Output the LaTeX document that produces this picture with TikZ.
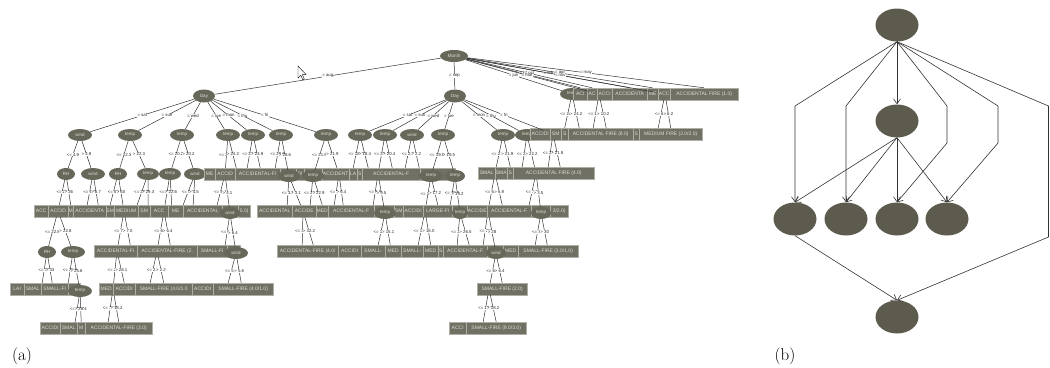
\documentclass[tikz,border=0pt]{standalone}
\usepackage{fontspec}
\newfontfamily\wekafont{Liberation Sans}
\usetikzlibrary{shapes.geometric,arrows.meta}
\definecolor{nodegray}{RGB}{104,104,90}
\definecolor{leafgray}{RGB}{112,112,100}
\definecolor{leafedge}{RGB}{175,175,165}
\definecolor{inktext}{RGB}{222,222,212}
\definecolor{bngray}{RGB}{92,91,78}
\tikzset{
  attr/.style={ellipse, fill=nodegray, minimum width=24pt, minimum height=12pt, inner sep=0pt, text=inktext, font=\wekafont\fontsize{4.5}{5}\selectfont},
  leaf/.style={rectangle, draw=leafedge, line width=0.4pt, fill=leafgray, minimum height=12pt, inner sep=0pt, anchor=west, text=inktext, font=\wekafont\fontsize{5}{6}\selectfont},
  lbl/.style={fill=white, inner sep=0.3pt, text=black!85, font=\wekafont\fontsize{4.3}{5}\selectfont},
  link/.style={draw=black!80, line width=0.5pt},
  bn/.style={ellipse, fill=bngray, minimum width=43pt, minimum height=33pt, inner sep=0pt},
  bnarrow/.style={draw=black!80, line width=0.6pt, -{Straight Barb[length=5pt,width=7pt]}},
  caption/.style={font=\fontsize{17}{20}\selectfont},
}
\begin{document}
\begin{tikzpicture}[x=1pt,y=-1pt]
\useasboundingbox (0,0) rectangle (1050,367);

% (a) tree
\node[attr, minimum width=28pt] (month) at (454,56) {Month};
\node[attr, minimum width=22pt, minimum height=13pt] (dayA) at (204,96) {Day};
\node[attr, minimum width=22pt, minimum height=13pt] (dayS) at (455,96) {Day};
\node[attr] (junT) at (572,94) {temp};
\node[attr] (junH1) at (599,94) {};
\node[attr] (junH2) at (665,94) {};
\node[leaf, minimum width=14pt] (j1) at (573,94) {ACI};
\node[leaf, minimum width=10pt] (j2) at (587,94) {AC};
\node[leaf, minimum width=15pt] (j3) at (597,94) {ACCI};
\node[leaf, minimum width=35pt] (j4) at (612,94) {ACCIDENTA};
\node[leaf, minimum width=11pt] (j5) at (647,94) {ME};
\node[leaf, minimum width=12pt] (j6) at (658,94) {ACC};
\node[leaf, minimum width=68pt] (j7) at (670,94) {ACCIDENTAL FIRE (1.0)};

\node[attr] (windA) at (80,135) {wind};
\node[attr] (tmpA2) at (130,135) {temp};
\node[attr] (tmpA3) at (182,135) {temp};
\node[attr] (tmpA4) at (228,135) {temp};
\node[attr] (tmpA5) at (253,135) {temp};
\node[attr] (tmpA6) at (281,135) {temp};
\node[attr] (tmpA7) at (326,135) {temp};
\node[attr] (tmpS1) at (360,135) {temp};
\node[attr] (tmpS2) at (385,135) {temp};
\node[attr] (windS3) at (412,135) {wind};
\node[attr] (tmpS4) at (443,135) {temp};
\node[attr] (tmpS5) at (503,135) {temp};
\node[attr] (tmpS6) at (527,135) {temp};
\node[attr] (hidS7) at (553,134) {};
\node[leaf, minimum width=20pt] (k1) at (530,134) {ACCIDI};
\node[leaf, minimum width=11pt] (k2) at (550,134) {SM};
\node[leaf, minimum width=7pt] (k3) at (561,134) {S};
\node[leaf, minimum width=65pt] (k4) at (568,134) {ACCIDENTAL FIRE (8.0)};
\node[leaf, minimum width=6pt] (k5) at (633,134) {S};
\node[leaf, minimum width=63pt] (k6) at (639,134) {MEDIUM FIRE (2.0/2.0)};

\node[attr, minimum width=18pt] (rhA) at (66,174) {RH};
\node[attr] (windB) at (93,174) {wind};
\node[attr, minimum width=18pt] (rhB) at (118,174) {RH};
\node[attr, minimum width=22pt] (tmpB) at (148,174) {temp};
\node[attr, minimum width=22pt] (tmpC) at (170,174) {temp};
\node[attr, minimum width=22pt] (windC) at (195,174) {wind};
\node[attr] (hid3a) at (225,174) {};
\node[attr] (hid3b) at (339,174) {};
\node[attr] (hid3c) at (378,174) {};
\node[attr] (hid3d) at (495,173) {};
\node[attr] (hid3e) at (536,173) {};
\node[leaf, minimum width=11pt] (m1) at (204,174) {ME};
\node[leaf, minimum width=20pt] (m2) at (215,174) {ACCID};
\node[leaf, minimum width=45pt] (m3) at (235,174) {ACCIDENTAL-FI};
\node[leaf, minimum width=16pt] (m4) at (280,174) {};
\node[leaf, minimum width=8pt] (m5) at (296,174) {0/};
\node[leaf, minimum width=18pt] (m6) at (304,174) {};
\node[leaf, minimum width=27pt] (m7) at (322,174) {ACCIDENT};
\node[leaf, minimum width=8pt] (m8) at (349,174) {LA};
\node[leaf, minimum width=5pt] (m9) at (357,174) {S};
\node[leaf, minimum width=58pt] (m10) at (362,174) {ACCIDENTAL-F};
\node[leaf, minimum width=35pt] (m11) at (420,174) {};
\node[attr, minimum width=22pt] (windD) at (289,176) {wind};
\node[attr, minimum width=22pt] (tmpD) at (313,176) {temp};
\node[attr] (tmpE) at (431,176) {temp};
\node[attr, minimum width=20pt] (tmpF) at (455,176) {temp};
\node[leaf, minimum width=17pt] (n1) at (478,173) {SMAL};
\node[leaf, minimum width=12pt] (n2) at (495,173) {SMA};
\node[leaf, minimum width=6pt] (n3) at (507,173) {S};
\node[leaf, minimum width=81pt] (n4) at (513,173) {ACCIDENTAL FIRE (4.0)};

\node[attr] (hid5a) at (58,211) {};
\node[attr] (hid5b) at (124,211) {};
\node[attr] (hid5c) at (164,211) {};
\node[attr] (hid5d) at (303,211) {};
\node[attr] (hid5e) at (425,211) {};
\node[attr] (hid5f) at (488,211) {};
\node[leaf, minimum width=14pt] (p1) at (34,211) {ACC};
\node[leaf, minimum width=20pt] (p2) at (48,211) {ACCID};
\node[leaf, minimum width=5pt] (p3) at (68,211) {M};
\node[leaf, minimum width=33pt] (p4) at (73,211) {ACCIDENTA};
\node[leaf, minimum width=8pt] (p5) at (106,211) {SM};
\node[leaf, minimum width=24pt] (p6) at (114,211) {MEDIUM};
\node[leaf, minimum width=12pt] (p7) at (138,211) {SM};
\node[leaf, minimum width=18pt] (p8) at (150,211) {ACC};
\node[leaf, minimum width=15pt] (p9) at (168,211) {ME};
\node[leaf, minimum width=39pt] (p10) at (183,211) {ACCIDENTAL};
\node[leaf, minimum width=16pt] (p11) at (222,211) {};
\node[leaf, minimum width=12pt] (p12) at (238,211) {5.0)};
\node[attr, minimum width=20pt] (windE) at (230,213) {wind};
\node[leaf, minimum width=35pt] (r5a) at (257,211) {ACCIDENTAL};
\node[leaf, minimum width=24pt] (r5b) at (292,211) {ACCIDE};
\node[leaf, minimum width=12pt] (r5c) at (316,211) {MED};
\node[leaf, minimum width=46pt] (r5d) at (328,211) {ACCIDENTAL-F};
\node[leaf, minimum width=20pt] (r5e) at (374,211) {};
\node[leaf, minimum width=9pt] (r5f) at (394,211) {SM};
\node[leaf, minimum width=20pt] (r5g) at (403,211) {ACCIDI};
\node[leaf, minimum width=29pt] (r5h) at (423,211) {LARGE-FI};
\node[leaf, minimum width=15pt] (r5i) at (452,211) {};
\node[leaf, minimum width=20pt] (r5j) at (467,211) {ACCIDE};
\node[leaf, minimum width=44pt] (r5k) at (487,211) {ACCIDENTAL-F};
\node[leaf, minimum width=19pt] (r5l) at (531,211) {};
\node[leaf, minimum width=18pt] (r5m) at (550,211) {3/2.0)};
\node[attr, minimum width=22pt] (tmpG) at (385,213) {temp};
\node[attr, minimum width=16pt] (tmpH) at (460,213) {temp};
\node[attr, minimum width=20pt] (tmpI) at (541,213) {temp};

\node[attr, minimum width=18pt] (rhC) at (47,252) {RH};
\node[attr] (tmpJ) at (73,252) {temp};
\node[attr] (hid7a) at (117,251) {};
\node[attr] (hid7b) at (157,251) {};
\node[leaf, minimum width=43pt] (q1) at (94,251) {ACCIDENTAL-FI};
\node[leaf, minimum width=60pt] (q2) at (137,251) {ACCIDENTAL-FIRE (2.};
\node[leaf, minimum width=30pt] (q3) at (197,251) {SMALL-FI};
\node[leaf, minimum width=13pt] (q4) at (227,251) {};
\node[attr] (windF) at (236,253) {wind};
\node[leaf, minimum width=61pt] (s1) at (277,251) {ACCIDENTAL-FIRE (4.0/};
\node[leaf, minimum width=23pt] (s2) at (338,251) {ACCIDI};
\node[leaf, minimum width=24pt] (s3) at (361,251) {SMALL-};
\node[leaf, minimum width=16pt] (s4) at (385,251) {MED};
\node[leaf, minimum width=22pt] (s5) at (401,251) {SMALL-};
\node[leaf, minimum width=15pt] (s6) at (423,251) {MED};
\node[leaf, minimum width=5pt] (s7) at (438,251) {S};
\node[leaf, minimum width=44pt] (s8) at (443,251) {ACCIDENTAL-F};
\node[leaf, minimum width=16pt] (s9) at (487,251) {};
\node[leaf, minimum width=15pt] (s10) at (503,251) {MED};
\node[leaf, minimum width=60pt] (s11) at (518,251) {SMALL-FIRE (3.0/1.0)};
\node[attr, minimum width=20pt] (windG) at (496,253) {wind};

\node[attr] (hid9a) at (113,289) {};
\node[attr] (hid9b) at (489,289) {};
\node[leaf, minimum width=14pt] (t1) at (10,289) {LAI};
\node[leaf, minimum width=17pt] (t2) at (24,289) {SMAL};
\node[leaf, minimum width=27pt] (t3) at (41,289) {SMALL-FI};
\node[leaf, minimum width=12pt] (t4) at (68,289) {};
\node[attr] (tmpK) at (80,291) {temp};
\node[leaf, minimum width=14pt] (u1) at (99,289) {MED};
\node[leaf, minimum width=22pt] (u2) at (113,289) {ACCIDI};
\node[leaf, minimum width=57pt] (u3) at (135,289) {SMALL-FIRE (4.0/1.0};
\node[leaf, minimum width=21pt] (u4) at (192,289) {ACCIDI};
\node[leaf, minimum width=60pt] (u5) at (213,289) {SMALL-FIRE (4.0/1.0)};
\node[leaf, minimum width=50pt] (x1) at (477,289) {SMALL-FIRE (2.0)};

\node[leaf, minimum width=20pt] (v1) at (40,328) {ACCIDI};
\node[leaf, minimum width=17pt] (v2) at (60,328) {SMAL};
\node[leaf, minimum width=8pt] (v3) at (77,328) {M};
\node[leaf, minimum width=67pt] (v4) at (85,328) {ACCIDENTAL-FIRE (3.0)};
\node[leaf, minimum width=17pt] (w1) at (449,328) {ACCI};
\node[leaf, minimum width=60pt] (w2) at (466,328) {SMALL-FIRE (9.0/3.0)};

\draw[link] (month) -- node[lbl] {= aug} (dayA);
\draw[link] (month) -- node[lbl] {= sep} (dayS);
\draw[link] (month) -- node[lbl] {= jun} (junT);
\draw[link] (month) -- node[lbl] {= jul} (j1.north);
\draw[link] (month) -- node[lbl] {= oct} (j2.north);
\draw[link] (month) -- node[lbl] {= mar} (junH1);
\draw[link] (month) -- node[lbl] {= feb} (j4.north);
\draw[link] (month) -- node[lbl] {= apr} (j5.north);
\draw[link] (month) -- node[lbl] {= nov} (junH2);
\draw[link] (month) -- node[lbl] {= may} (j7.north);

\draw[link] (dayA) -- node[lbl] {= sat} (windA);
\draw[link] (dayA) -- node[lbl] {= sun} (tmpA2);
\draw[link] (dayA) -- node[lbl] {= wed} (tmpA3);
\draw[link] (dayA) -- node[lbl] {= tue} (tmpA4);
\draw[link] (dayA) -- node[lbl] {= mon} (tmpA5);
\draw[link] (dayA) -- node[lbl] {= thu} (tmpA6);
\draw[link] (dayA) -- node[lbl] {= fri} (tmpA7);
\draw[link] (dayS) -- node[lbl] {= sat} (tmpS1);
\draw[link] (dayS) -- node[lbl] {= sun} (tmpS2);
\draw[link] (dayS) -- node[lbl] {= wed} (windS3);
\draw[link] (dayS) -- node[lbl] {= tue} (tmpS4);
\draw[link] (dayS) -- node[lbl] {= mon} (tmpS5);
\draw[link] (dayS) -- node[lbl] {= thu} (tmpS6);
\draw[link] (dayS) -- node[lbl] {= fri} (hidS7);
\draw[link] (junT) -- node[lbl] {<= 24.2} (k3.north);
\draw[link] (junT) -- node[lbl] {> 24.2} ([xshift=-21.5pt]k4.north);
\draw[link] (junH1) -- node[lbl] {<= 10.2} ([xshift=-7.5pt]k4.north);
\draw[link] (junH1) -- node[lbl] {> 10.2} ([xshift=5.5pt]k4.north);
\draw[link] (junH2) -- node[lbl] {<= 6.2} ([xshift=-12.5pt]k6.north);
\draw[link] (junH2) -- node[lbl] {> 6.2} (k6.north);

\draw[link] (windA) -- node[lbl] {<= 4.9} (rhA);
\draw[link] (windA) -- node[lbl] {> 4.9} (windB);
\draw[link] (tmpA2) -- node[lbl] {<= 22.3} (rhB);
\draw[link] (tmpA2) -- node[lbl] {> 22.3} (tmpB);
\draw[link] (tmpA3) -- node[lbl] {<= 20.2} (tmpC);
\draw[link] (tmpA3) -- node[lbl] {> 20.2} (windC);
\draw[link] (tmpA4) -- node[lbl] {<= 24.2} (hid3a);
\draw[link] (tmpA4) -- node[lbl] {> 24.2} ([xshift=-21.5pt]m3.north);
\draw[link] (tmpA5) -- node[lbl] {<= 24.9} ([xshift=-10.5pt]m3.north);
\draw[link] (tmpA5) -- node[lbl] {> 24.9} ([xshift=2.5pt]m3.north);
\draw[link] (tmpA6) -- node[lbl] {<= 28.6} ([xshift=17.5pt]m3.north);
\draw[link] (tmpA6) -- node[lbl] {> 28.6} (windD);
\draw[link] (tmpA7) -- node[lbl] {<= 21.9} (tmpD);
\draw[link] (tmpA7) -- node[lbl] {> 21.9} (hid3b);
\draw[link] (tmpS1) -- node[lbl] {<= 18.4} (m8.north);
\draw[link] (tmpS1) -- node[lbl] {> 18.4} ([xshift=-23pt]m10.north);
\draw[link] (tmpS2) -- node[lbl] {<= 20.4} (hid3c);
\draw[link] (tmpS2) -- node[lbl] {> 20.4} ([xshift=1pt]m10.north);
\draw[link] (windS3) -- node[lbl] {<= 2.2} ([xshift=14pt]m10.north);
\draw[link] (windS3) -- node[lbl] {> 2.2} ([xshift=28pt]m10.north);
\draw[link] (tmpS4) -- node[lbl] {<= 19.5} (tmpE);
\draw[link] (tmpS4) -- node[lbl] {> 19.5} (tmpF);
\draw[link] (tmpS5) -- node[lbl] {<= 21.9} (hid3d);
\draw[link] (tmpS5) -- node[lbl] {> 21.9} (n3.north);
\draw[link] (tmpS6) -- node[lbl] {<= 22.2} ([xshift=-31.5pt]n4.north);
\draw[link] (tmpS6) -- node[lbl] {> 22.2} (hid3e);
\draw[link] (hidS7) -- node[lbl] {<= 21.9} ([xshift=-5.5pt]n4.north);
\draw[link] (hidS7) -- node[lbl] {> 21.9} ([xshift=6.5pt]n4.north);

\draw[link] (rhA) -- node[lbl] {<= 26} (hid5a);
\draw[link] (rhA) -- node[lbl] {> 26} (p3.north);
\draw[link] (windB) -- node[lbl] {<= 6.7} ([xshift=-2.5pt]p4.north);
\draw[link] (windB) -- node[lbl] {> 6.7} ([xshift=8.5pt]p4.north);
\draw[link] (rhB) -- node[lbl] {<= 60} (p5.north);
\draw[link] (rhB) -- node[lbl] {> 60} (hid5b);
\draw[link] (tmpB) -- node[lbl] {<= 29.3} ([xshift=11pt]p6.north);
\draw[link] (tmpB) -- node[lbl] {> 29.3} ([xshift=4pt]p7.north);
\draw[link] (tmpC) -- node[lbl] {<= 22.6} (hid5c);
\draw[link] (tmpC) -- node[lbl] {> 22.6} ([xshift=-4pt]p9.north);
\draw[link] (windC) -- node[lbl] {<= 4.5} ([xshift=-19.5pt]p10.north);
\draw[link] (windC) -- node[lbl] {> 4.5} ([xshift=-9.5pt]p10.north);
\draw[link] (hid3a) -- node[lbl] {<= 4.1} ([xshift=14.5pt]p10.north);
\draw[link] (hid3a) -- node[lbl] {> 4.1} (windE);
\draw[link] (windD) -- node[lbl] {<= 3.1} ([xshift=12.5pt]r5a.north);
\draw[link] (windD) -- node[lbl] {> 3.1} (hid5d);
\draw[link] (tmpD) -- node[lbl] {<= 22.9} ([xshift=6pt]r5b.north);
\draw[link] (tmpD) -- node[lbl] {> 22.9} (r5c.north);
\draw[link] (hid3b) -- node[lbl] {<= 6.4} ([xshift=-17pt]r5d.north);
\draw[link] (hid3b) -- node[lbl] {> 6.4} ([xshift=-8pt]r5d.north);
\draw[link] (hid3c) -- node[lbl] {<= 9.5} ([xshift=22pt]r5d.north);
\draw[link] (hid3c) -- node[lbl] {> 9.5} (tmpG);
\draw[link] (tmpE) -- node[lbl] {<= 17.2} (hid5e);
\draw[link] (tmpE) -- node[lbl] {> 17.2} (r5h.north);
\draw[link] (tmpF) -- node[lbl] {<= 19.2} ([xshift=12.5pt]r5h.north);
\draw[link] (tmpF) -- node[lbl] {> 19.2} (tmpH);
\draw[link] (hid3d) -- node[lbl] {<= 6.9} (hid5f);
\draw[link] (hid3d) -- node[lbl] {> 6.9} ([xshift=-7pt]r5k.north);
\draw[link] (hid3e) -- node[lbl] {<= 3.5} ([xshift=20pt]r5k.north);
\draw[link] (hid3e) -- node[lbl] {> 3.5} (tmpI);

\draw[link] (hid5a) -- node[lbl] {<= 22.8} (rhC);
\draw[link] (hid5a) -- node[lbl] {> 22.8} (tmpJ);
\draw[link] (hid5b) -- node[lbl] {<= 7.0} (hid7a);
\draw[link] (hid5b) -- node[lbl] {> 7.0} ([xshift=14.5pt]q1.north);
\draw[link] (hid5c) -- node[lbl] {<= 6.4} (hid7b);
\draw[link] (hid5c) -- node[lbl] {> 6.4} ([xshift=3pt]q2.north);
\draw[link] (windE) -- node[lbl] {<= 6.4} ([xshift=13pt]q3.north);
\draw[link] (windE) -- node[lbl] {> 6.4} (windF);
\draw[link] (hid5d) -- node[lbl] {<= 32.2} ([xshift=-5.5pt]s1.north);
\draw[link] (hid5d) -- node[lbl] {> 32.2} ([xshift=5.5pt]s1.north);
\draw[link] (tmpG) -- node[lbl] {<= 15.1} ([xshift=5pt]s3.north);
\draw[link] (tmpG) -- node[lbl] {> 15.1} ([xshift=-3pt]s4.north);
\draw[link] (hid5e) -- node[lbl] {<= 16.0} ([xshift=6pt]s5.north);
\draw[link] (hid5e) -- node[lbl] {> 16.0} (s6.north);
\draw[link] (tmpH) -- node[lbl] {<= 26.5} ([xshift=-8pt]s8.north);
\draw[link] (tmpH) -- node[lbl] {> 26.5} ([xshift=4pt]s8.north);
\draw[link] (hid5f) -- node[lbl] {<= 28} ([xshift=18pt]s8.north);
\draw[link] (hid5f) -- node[lbl] {> 28} (windG);
\draw[link] (tmpI) -- node[lbl] {<= 30} ([xshift=-13pt]s11.north);
\draw[link] (tmpI) -- node[lbl] {> 30} ([xshift=-1pt]s11.north);

\draw[link] (rhC) -- node[lbl] {<= 33} ([xshift=9.5pt]t2.north);
\draw[link] (rhC) -- node[lbl] {> 33} ([xshift=-2.5pt]t3.north);
\draw[link] (tmpJ) -- node[lbl] {<= 25.6} ([xshift=13.5pt]t3.north);
\draw[link] (tmpJ) -- node[lbl] {> 25.6} (tmpK);
\draw[link] (hid7a) -- node[lbl] {<= 28.1} (hid9a);
\draw[link] (hid7a) -- node[lbl] {> 28.1} (u2.north);
\draw[link] (hid7b) -- node[lbl] {<= 2.2} ([xshift=-13.5pt]u3.north);
\draw[link] (hid7b) -- node[lbl] {> 2.2} (u3.north);
\draw[link] (windF) -- node[lbl] {<= 5.6} ([xshift=-15pt]u5.north);
\draw[link] (windF) -- node[lbl] {> 5.6} ([xshift=-2pt]u5.north);
\draw[link] (windG) -- node[lbl] {<= 6.4} (hid9b);
\draw[link] (windG) -- node[lbl] {> 6.4} (x1.north);

\draw[link] (tmpK) -- node[lbl] {<= 28.4} ([xshift=6.5pt]v2.north);
\draw[link] (tmpK) -- node[lbl] {> 28.4} (v3.north);
\draw[link] (hid9a) -- node[lbl] {<= 18.2} ([xshift=-10.5pt]v4.north);
\draw[link] (hid9a) -- node[lbl] {> 18.2} (v4.north);
\draw[link] (hid9b) -- node[lbl] {<= 18.2} ([xshift=-13pt]w2.north);
\draw[link] (hid9b) -- node[lbl] {> 18.2} (w2.north);

\draw[fill=white, line width=0.4pt] (298,66) -- (298,78) -- (300.8,75.3) -- (302.8,79.8) -- (304.3,79.1) -- (302.4,74.7) -- (306,74.5) -- cycle;

\node[caption] (capA) at (22,356) {(a)};

% (b) network
\node[bn] (btop) at (897,25) {};
\node[bn] (bmid) at (897,121) {};
\node[bn] (b1) at (795,219) {};
\node[bn] (b2) at (846,219) {};
\node[bn] (b3) at (897,219) {};
\node[bn] (b4) at (947,219) {};
\node[bn] (bbot) at (897,317) {};
\coordinate (k1) at (795,106);
\coordinate (k2) at (846,106);
\coordinate (k3) at (947,106);
\coordinate (k3b) at (947,143);
\coordinate (k4) at (998,106);
\coordinate (k4b) at (998,143);
\coordinate (k5) at (1048.5,106);
\coordinate (k5b) at (1048.5,237);

\draw[bnarrow] (btop.south) -- (k1) -- (b1.north);
\draw[bnarrow] (btop.south) -- (k2) -- (b2.north);
\draw[bnarrow] (btop) -- (bmid);
\draw[bnarrow] (btop.south) -- (k3) -- (k3b) -- (b3.north);
\draw[bnarrow] (btop.south) -- (k4) -- (k4b) -- (b4.north);
\draw[bnarrow] (btop.south) -- (k5) -- (k5b) -- (bbot.north);
\draw[bnarrow] (bmid.south) -- (b1.north);
\draw[bnarrow] (bmid.south) -- (b2.north);
\draw[bnarrow] (bmid) -- (b3);
\draw[bnarrow] (bmid.south) -- (b4.north);
\draw[bnarrow] (b1.south) -- (bbot.north);

\node[caption] (capB) at (785,356) {(b)};
\end{tikzpicture}
\end{document}
